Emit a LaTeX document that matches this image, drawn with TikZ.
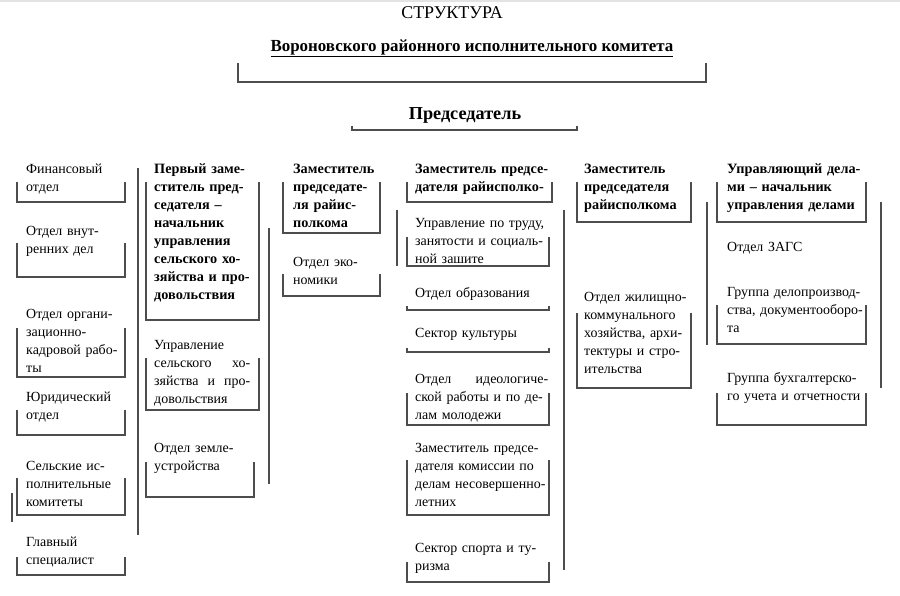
\documentclass[tikz,border=0pt]{standalone}
\usepackage{fontspec}
\setmainfont{Liberation Serif}
\usepackage{tikz}
\usetikzlibrary{positioning}
\definecolor{ink}{HTML}{000000}
\definecolor{rulegray}{HTML}{4D4D4D}
\definecolor{edgegray}{HTML}{E3E3E3}
\tikzset{
  frame/.style={draw=rulegray, line width=1.2bp, line cap=butt, line join=miter},
  lab/.style={text=ink, font=\fontsize{14}{18}\selectfont, align=left, inner sep=0pt,
    anchor=north west, text width=155bp, yshift=8bp, execute at begin node=\strut},
  labb/.style={lab, font=\fontsize{14.3}{18}\selectfont\bfseries},
  head/.style={text=ink, inner sep=0pt},
}

\begin{document}
\begin{tikzpicture}[x=1bp,y=-1bp]
\useasboundingbox (0,0) rectangle (900,596);
\fill[edgegray] (0,0) rectangle (900,2.5);

% heading
\node[head, font=\fontsize{18}{20}\selectfont] (title) at (452,13) {СТРУКТУРА};
\node[head, font=\fontsize{17}{20}\selectfont\bfseries] (org) at (472,48)
  {\underline{Вороновского районного исполнительного комитета}};
\draw[frame] (238,63) |- (706,82) -- (706,63);
\node[head, font=\fontsize{18.3}{20}\selectfont\bfseries] (chair) at (465,115) {Председатель};
\draw[frame] (352,126) |- (577,130) -- (577,126);

% column 1
\node[lab] (fin)  at (26,169) {Финансовый\\отдел};
\node[lab] (vnd)  at (26,231) {Отдел внут-\\ренних дел};
\node[lab] (okr)  at (26,314) {Отдел органи-\\зационно-\\кадровой рабо-\\ты};
\node[lab] (yur)  at (26,397) {Юридический\\отдел};
\node[lab] (sik)  at (26,466) {Сельские ис-\\полнительные\\комитеты};
\node[lab] (glav) at (26,542) {Главный\\специалист};

% column 2
\node[labb] (zam1) at (154,169) {Первый заме-\\ститель пред-\\седателя –\\начальник\\управления\\сельского хо-\\зяйства и про-\\довольствия};
\node[lab] (ush)  at (154,345) {Управление\\\makebox[96bp][l]{сельского\hfill хо-}\\\makebox[96bp][l]{зяйства\hfill и\hfill про-}\\довольствия};
\node[lab] (zeml) at (154,448) {Отдел земле-\\устройства};

% column 3
\node[labb] (zam2) at (293,169) {Заместитель\\председате-\\ля райис-\\полкома};
\node[lab] (eco)  at (293,262) {Отдел эко-\\номики};

% column 4
\node[labb] (zam3) at (415,169) {Заместитель предсе-\\дателя райисполко-};
\node[lab] (trud) at (415,223) {Управление по труду,\\занятости и социаль-\\ной зашите};
\node[lab] (obr)  at (415,293) {Отдел образования};
\node[lab] (kult) at (415,333) {Сектор культуры};
\node[lab] (ideo) at (415,379) {\makebox[133bp][l]{Отдел\hfill идеологиче-}\\ской работы и по де-\\лам молодежи};
\node[lab] (kdn)  at (415,448) {Заместитель предсе-\\дателя комиссии по\\делам несовершенно-\\летних};
\node[lab] (sport) at (415,548) {Сектор спорта и ту-\\ризма};

% column 5
\node[labb] (zam4) at (584,169) {Заместитель\\председателя\\райисполкома};
\node[lab] (zhkh) at (584,297) {Отдел жилищно-\\коммунального\\хозяйства, архи-\\тектуры и стро-\\ительства};

% column 6
\node[labb] (upd)  at (727,169) {Управляющий дела-\\ми – начальник\\управления делами};
\node[lab] (zags) at (727,247) {Отдел ЗАГС};
\node[lab] (delo) at (727,292) {Группа делопроизвод-\\ства, документооборо-\\та};
\node[lab] (buh)  at (727,378) {Группа бухгалтерско-\\го учета и отчетности};

% open boxes under the labels
\foreach \xa/\xb/\ya/\yb in {17/125/182/202, 17/125/243/277, 17/125/328/377,
  17/125/410/435, 17/125/478/515, 17/125/557/575,
  146/259/182/320, 146/259/358/410, 146/254/462/497,
  283/380/182/233, 283/380/274/296,
  407/552/182/202, 407/549/237/266, 407/549/306/310, 407/549/348/352,
  407/549/393/425, 407/549/460/515, 407/549/562/582,
  577/691/182/222, 577/691/313/388,
  717/866/182/222, 717/866/305/344, 717/866/393/425}{
  \draw[frame] (\xa,\ya) |- (\xb,\yb) -- (\xb,\ya);
}

% vertical rules
\foreach \x/\ya/\yb in {12/493/522, 138/168/535, 269/228/484, 397/210/266,
  564/210/570, 707/202/345, 881/202/388}{
  \draw[frame] (\x,\ya) -- (\x,\yb);
}
\end{tikzpicture}
\end{document}
